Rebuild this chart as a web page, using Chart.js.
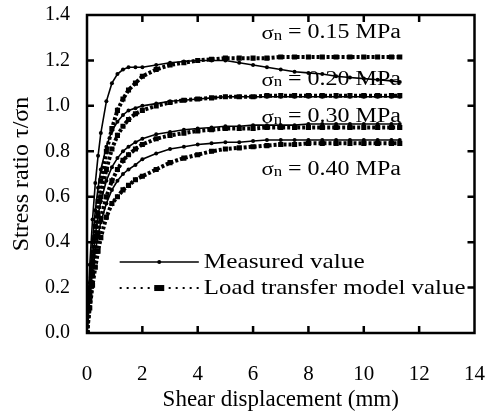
<!DOCTYPE html>
<html>
<head>
<meta charset="utf-8">
<script src="https://cdn.jsdelivr.net/npm/chart.js@4"></script>
<style>
  html, body { margin: 0; padding: 0; background: #fff; }
</style>
</head>
<body>
<canvas id="shearChart" width="485" height="414"></canvas>
<script>
/*************** DATA ***************/
// shear displacement (mm), shared by all curves
const shearDisp = [0, 0.1, 0.2, 0.3, 0.4, 0.5, 0.7, 0.9, 1.1, 1.3, 1.5, 1.75, 2, 2.5, 3, 3.5,
                   4, 4.5, 5, 5.5, 6, 6.5, 7, 7.5, 8, 8.5, 9, 9.5, 10, 10.5, 11, 11.3];

// measured stress ratio
const measured015 = [0, 0.30, 0.50, 0.66, 0.78, 0.88, 1.02, 1.10, 1.14, 1.16, 1.17, 1.17, 1.17, 1.18, 1.19, 1.195,
                     1.20, 1.20, 1.20, 1.19, 1.18, 1.17, 1.16, 1.15, 1.145, 1.14, 1.13, 1.125, 1.12, 1.115, 1.11, 1.105];
const measured020 = [0, 0.22, 0.40, 0.54, 0.64, 0.72, 0.82, 0.89, 0.93, 0.96, 0.98, 0.99, 1.00, 1.01, 1.02, 1.025,
                     1.03, 1.035, 1.04, 1.04, 1.04, 1.04, 1.04, 1.04, 1.04, 1.04, 1.04, 1.04, 1.04, 1.04, 1.04, 1.04];
const measured030 = [0, 0.18, 0.32, 0.43, 0.52, 0.58, 0.67, 0.73, 0.77, 0.80, 0.82, 0.84, 0.855, 0.875, 0.885, 0.895,
                     0.90, 0.905, 0.91, 0.91, 0.915, 0.915, 0.915, 0.915, 0.92, 0.92, 0.92, 0.92, 0.92, 0.92, 0.92, 0.92];
const measured040 = [0, 0.15, 0.27, 0.36, 0.43, 0.49, 0.57, 0.63, 0.67, 0.70, 0.72, 0.74, 0.765, 0.79, 0.81, 0.82,
                     0.83, 0.835, 0.84, 0.84, 0.845, 0.85, 0.85, 0.85, 0.85, 0.85, 0.85, 0.85, 0.85, 0.85, 0.85, 0.85];

// load transfer model stress ratio
const model015 = [0, 0.18, 0.34, 0.47, 0.58, 0.67, 0.80, 0.90, 0.98, 1.03, 1.07, 1.10, 1.13, 1.16, 1.18, 1.19,
                  1.20, 1.205, 1.21, 1.21, 1.21, 1.21, 1.215, 1.215, 1.215, 1.215, 1.215, 1.215, 1.215, 1.215, 1.215, 1.215];
const model020 = [0, 0.16, 0.30, 0.42, 0.52, 0.60, 0.72, 0.81, 0.87, 0.91, 0.94, 0.965, 0.98, 1.00, 1.015, 1.025,
                  1.03, 1.035, 1.04, 1.04, 1.04, 1.045, 1.045, 1.045, 1.045, 1.045, 1.045, 1.045, 1.045, 1.045, 1.045, 1.045];
const model030 = [0, 0.14, 0.26, 0.36, 0.44, 0.50, 0.60, 0.67, 0.72, 0.76, 0.785, 0.81, 0.83, 0.855, 0.87, 0.88,
                  0.89, 0.895, 0.90, 0.90, 0.90, 0.905, 0.905, 0.905, 0.905, 0.905, 0.905, 0.905, 0.905, 0.905, 0.905, 0.905];
const model040 = [0, 0.11, 0.21, 0.29, 0.36, 0.42, 0.51, 0.57, 0.60, 0.63, 0.65, 0.675, 0.69, 0.72, 0.75, 0.77,
                  0.785, 0.80, 0.81, 0.815, 0.82, 0.825, 0.83, 0.83, 0.835, 0.835, 0.835, 0.835, 0.835, 0.835, 0.835, 0.835];

const normalStressLabels = ['0.15', '0.20', '0.30', '0.40'];
const xTickValues = [0, 2, 4, 6, 8, 10, 12, 14];
const yTickValues = [0, 0.2, 0.4, 0.6, 0.8, 1.0, 1.2, 1.4];

/*************** SETTINGS ***************/
const serif = '"Liberation Serif", "Times New Roman", serif';
const black = '#000';

function toPoints(values) {
    return values.map((v, i) => ({ x: shearDisp[i], y: v }));
}

function measuredSet(values, label) {
    return {
        label: label,
        data: toPoints(values),
        showLine: true,
        borderColor: black,
        borderWidth: 1.6,
        pointStyle: 'circle',
        pointRadius: 2,
        pointBackgroundColor: black,
        pointBorderWidth: 0
    };
}

function modelSet(values, label) {
    return {
        label: label,
        data: toPoints(values),
        showLine: true,
        borderColor: black,
        borderWidth: 4,
        borderDash: [3, 2],
        pointStyle: 'rect',
        pointRadius: 3.6,
        pointBackgroundColor: black,
        pointBorderWidth: 0
    };
}

// invisible tick marks, only used to push the labels away from the axis
function spacerGrid(len) {
    return { display: true, drawOnChartArea: false, drawTicks: true, tickLength: len, color: 'rgba(0,0,0,0)' };
}

// text a bit wider than the font, like the scanned figure
function wideText(ctx, text, x, y, sx) {
    ctx.save();
    ctx.translate(x, y);
    ctx.scale(sx, 1);
    ctx.fillText(text, 0, 0);
    ctx.restore();
    return ctx.measureText(text).width * sx;
}

// frame with inward ticks, curve labels and legend
const frameAndNotes = {
    id: 'frameAndNotes',
    afterDraw(chart) {
        const ctx = chart.ctx;
        const a = chart.chartArea;
        const xs = chart.scales.x;
        const ys = chart.scales.y;
        ctx.save();
        ctx.strokeStyle = black;
        ctx.lineWidth = 2.5;
        ctx.strokeRect(a.left, a.top, a.right - a.left, a.bottom - a.top);

        ctx.beginPath();
        xTickValues.slice(1, -1).forEach(v => {
            const px = xs.getPixelForValue(v);
            ctx.moveTo(px, a.bottom); ctx.lineTo(px, a.bottom - 7);
            ctx.moveTo(px, a.top); ctx.lineTo(px, a.top + 7);
        });
        yTickValues.slice(1, -1).forEach(v => {
            const py = ys.getPixelForValue(v);
            ctx.moveTo(a.left, py); ctx.lineTo(a.left + 7, py);
            ctx.moveTo(a.right, py); ctx.lineTo(a.right - 7, py);
        });
        ctx.stroke();

        // curve labels: sigma_n = ... MPa
        const labelY = [1.32, 1.115, 0.95, 0.72];
        ctx.fillStyle = black;
        ctx.textBaseline = 'middle';
        normalStressLabels.forEach((s, i) => {
            let px = xs.getPixelForValue(6.3);
            const py = ys.getPixelForValue(labelY[i]);
            ctx.font = '19px ' + serif;
            px += wideText(ctx, 'σ', px, py + 1, 1.2);
            ctx.font = '14px ' + serif;
            px += wideText(ctx, 'n', px, py + 3, 1.2);
            ctx.font = '20px ' + serif;
            wideText(ctx, ' = ' + s + ' MPa', px, py, 1.2);
        });

        // legend
        const lx0 = xs.getPixelForValue(1.18);
        const lx1 = xs.getPixelForValue(4.04);
        const lmid = (lx0 + lx1) / 2;
        const ly1 = ys.getPixelForValue(0.313);
        const ly2 = ys.getPixelForValue(0.198);
        ctx.lineWidth = 1.5;
        ctx.beginPath();
        ctx.moveTo(lx0, ly1); ctx.lineTo(lx1, ly1);
        ctx.stroke();
        ctx.beginPath();
        ctx.arc(lmid, ly1, 2, 0, Math.PI * 2);
        ctx.fill();
        ctx.setLineDash([2, 5]);
        ctx.lineWidth = 2;
        ctx.beginPath();
        ctx.moveTo(lx0, ly2); ctx.lineTo(lx1, ly2);
        ctx.stroke();
        ctx.setLineDash([]);
        ctx.fillRect(lmid - 5, ly2 - 3, 10, 6);
        ctx.font = '22px ' + serif;
        wideText(ctx, 'Measured value', lx1 + 5, ly1, 1.15);
        wideText(ctx, 'Load transfer model value', lx1 + 5, ly2, 1.13);
        ctx.restore();
    }
};

/*************** DRAWING CHART ***************/
const data = {
    datasets: [
        measuredSet(measured015, 'Measured 0.15'),
        modelSet(model015, 'Model 0.15'),
        measuredSet(measured020, 'Measured 0.20'),
        modelSet(model020, 'Model 0.20'),
        measuredSet(measured030, 'Measured 0.30'),
        modelSet(model030, 'Model 0.30'),
        measuredSet(measured040, 'Measured 0.40'),
        modelSet(model040, 'Model 0.40')
    ]
};

const options = {
    responsive: false,
    devicePixelRatio: 1,
    animation: false,
    layout: { padding: { top: 15, right: 9, left: 0, bottom: 0 } },
    plugins: {
        legend: { display: false },
        tooltip: { enabled: false }
    },
    scales: {
        x: {
            type: 'linear',
            min: 0,
            max: 14,
            afterBuildTicks: (s) => { s.ticks = xTickValues.map(v => ({ value: v })); },
            ticks: { color: black, font: { family: serif, size: 21 }, padding: 0 },
            grid: spacerGrid(29),
            border: { display: false },
            title: {
                display: true,
                text: 'Shear displacement (mm)',
                color: black,
                font: { family: serif, size: 23 },
                padding: { top: 0, bottom: 0 }
            },
            afterFit: (s) => { s.height = 81; }
        },
        y: {
            type: 'linear',
            min: 0,
            max: 1.4,
            afterBuildTicks: (s) => { s.ticks = yTickValues.map(v => ({ value: v })); },
            ticks: {
                color: black,
                font: { family: serif, size: 20 },
                padding: 0,
                callback: (v) => Number(v).toFixed(1)
            },
            grid: spacerGrid(17),
            border: { display: false },
            title: {
                display: true,
                text: 'Stress ratio τ/σn',
                color: black,
                font: { family: serif, size: 24 },
                padding: { top: 7, bottom: 0 }
            },
            afterFit: (s) => { s.width = 87; }
        }
    }
};

const ctx = document.getElementById('shearChart').getContext('2d');
const shearChart = new Chart(ctx, {
    type: 'scatter',
    data: data,
    options: options,
    plugins: [frameAndNotes]
});
</script>
</body>
</html>
